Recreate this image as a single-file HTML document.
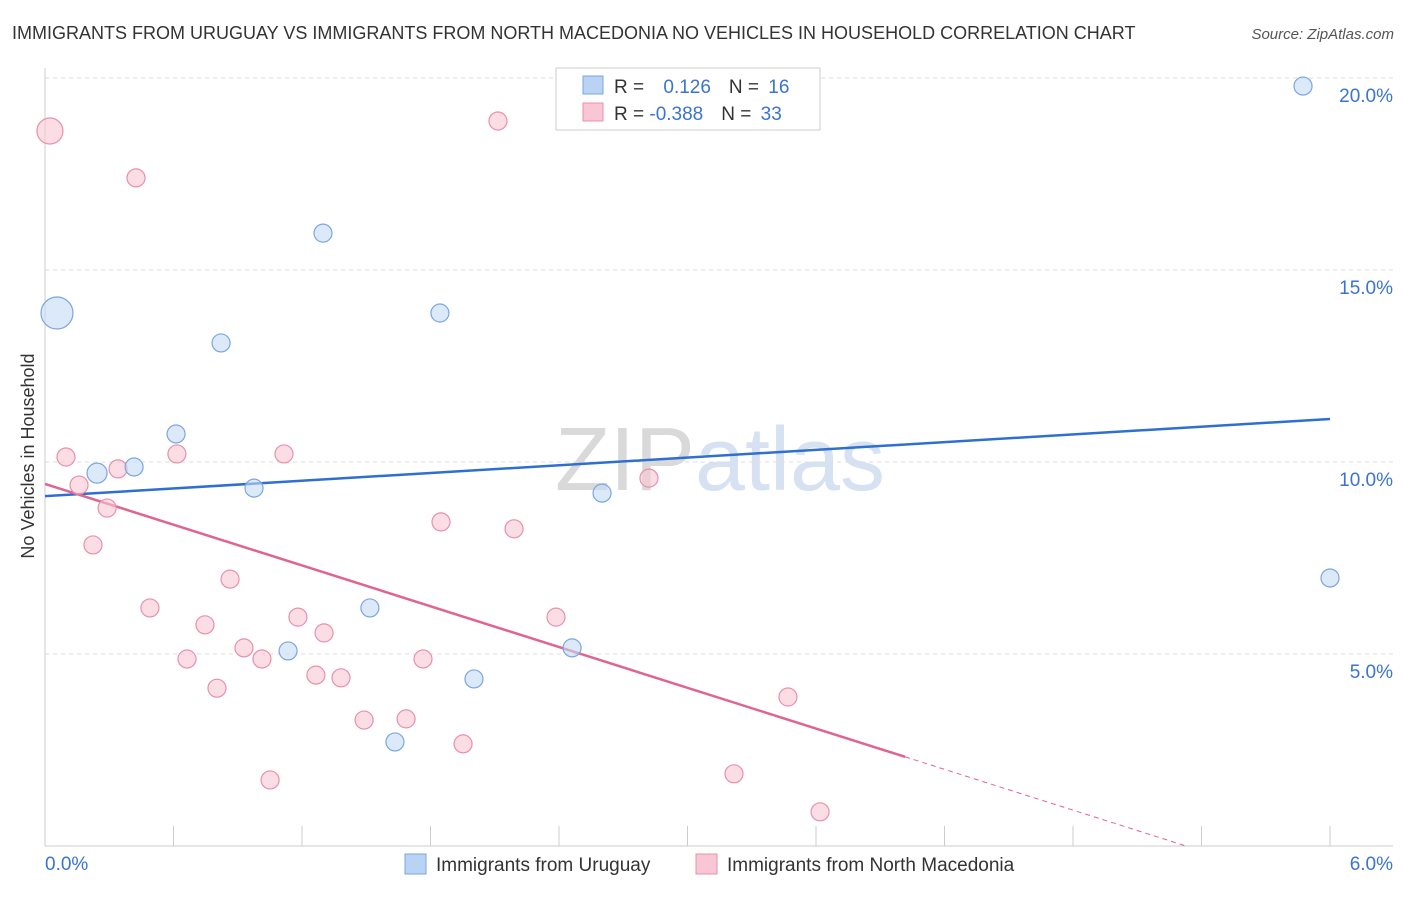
<!DOCTYPE html>
<html><head><meta charset="utf-8">
<style>
body{margin:0;background:#fff;font-family:"Liberation Sans",sans-serif;}
svg text{font-family:"Liberation Sans",sans-serif;}
</style></head>
<body>
<svg id="chart" width="1406" height="892" viewBox="0 0 1406 892" xmlns="http://www.w3.org/2000/svg">
<text x="12" y="39" font-size="18" fill="#333">IMMIGRANTS FROM URUGUAY VS IMMIGRANTS FROM NORTH MACEDONIA NO VEHICLES IN HOUSEHOLD CORRELATION CHART</text>
<text x="1394" y="39" font-size="15" fill="#555" font-style="italic" text-anchor="end">Source: ZipAtlas.com</text>
<text x="720" y="490" font-size="90" text-anchor="middle" fill="#ddd" font-family="Liberation Serif"><tspan fill="#d9d9d9">ZIP</tspan><tspan fill="#d6e2f2" font-family="Liberation Sans">atlas</tspan></text>
<text transform="translate(34,456) rotate(-90)" font-size="18" fill="#333" text-anchor="middle">No Vehicles in Household</text>
<g id="grid"></g>
<g id="axes"></g>
<g id="trend"></g>
<g id="points"></g>
<g>
<rect x="556" y="68" width="264" height="62" fill="#fff" stroke="#ccc"/>
<rect x="583" y="76" width="20" height="18" fill="#b9d3f5" stroke="#7aa6e0"/>
<rect x="583" y="103" width="20" height="18" fill="#f9c6d5" stroke="#e890aa"/>
<text x="614" y="93" font-size="19" fill="#333">R = <tspan fill="#3a74d0" dx="14">0.126</tspan><tspan fill="#333" dx="18">N = </tspan><tspan fill="#3a74d0" dx="4">16</tspan></text>
<text x="614" y="120" font-size="19" fill="#333">R = <tspan fill="#3a74d0">-0.388</tspan><tspan fill="#333" dx="18">N = </tspan><tspan fill="#3a74d0" dx="4">33</tspan></text>
</g>
<g>
<rect x="405" y="854" width="21" height="20" fill="#b9d3f5" stroke="#7aa6e0"/>
<text x="436" y="871" font-size="19" fill="#333">Immigrants from Uruguay</text>
<rect x="696" y="854" width="21" height="20" fill="#f9c6d5" stroke="#e890aa"/>
<text x="727" y="871" font-size="19" fill="#333">Immigrants from North Macedonia</text>
</g>
</svg>
<script>
const blueX=[0.056,0.243,0.416,0.612,0.822,0.976,1.135,1.298,1.517,1.634,1.844,2.003,2.461,2.601,5.874,6.0];
const blueY=[13.88,9.71,9.87,10.73,13.10,9.32,5.08,15.96,6.20,2.71,13.88,4.35,5.16,9.19,19.79,6.98];
const blueR=[16,10,9,9,9,9,9,9,9,9,9,9,9,9,9,9];
const pinkX=[0.023,0.098,0.159,0.224,0.29,0.341,0.425,0.49,0.616,0.663,0.747,0.803,0.864,0.929,1.013,1.051,1.116,1.181,1.265,1.303,1.382,1.49,1.686,1.765,1.849,1.952,2.115,2.19,2.386,2.82,3.217,3.469,3.619];
const pinkY=[18.62,10.13,9.40,7.84,8.80,9.82,17.40,6.20,10.21,4.87,5.76,4.11,6.95,5.16,4.87,1.72,10.21,5.96,4.45,5.55,4.38,3.28,3.31,4.87,8.44,2.66,18.88,8.26,5.96,9.58,1.88,3.88,0.89];
const pinkR=[13,9,9,9,9,9,9,9,9,9,9,9,9,9,9,9,9,9,9,9,9,9,9,9,9,9,9,9,9,9,9,9,9];
const yTicks=[5,10,15,20];
const yTickLabels=["5.0%","10.0%","15.0%","20.0%"];
const xTicks=[0,0.6,1.2,1.8,2.4,3.0,3.6,4.2,4.8,5.4,6.0];
const blueTrend=[9.11,11.12];
const pinkTrend=[9.43,-1.19];
const pinkSolidEnd=4.016;

const NS="http://www.w3.org/2000/svg";
const X=v=>45+v*214.17, Y=v=>846-v*38.4;
function mk(p,tag,a){const e=document.createElementNS(NS,tag);for(const k in a)e.setAttribute(k,a[k]);p.appendChild(e);return e;}
const grid=document.getElementById('grid'),axes=document.getElementById('axes'),trend=document.getElementById('trend'),pts=document.getElementById('points');
yTicks.forEach((t,i)=>{
 const l=mk(grid,'line',{x1:45,x2:1393,y1:Y(t),y2:Y(t),stroke:'#ddd','stroke-dasharray':'4,4'});
 
 
 const tx=mk(axes,'text',{x:1393,y:Y(t)+24,'font-size':19,fill:'#3a74d0','text-anchor':'end'});
 tx.textContent=yTickLabels[i];
 
 
});
const ax=mk(axes,'line',{x1:45,x2:45,y1:68,y2:846,stroke:'#ccc'});


const bx=mk(axes,'line',{x1:45,x2:1393,y1:846,y2:846,stroke:'#ccc'});


xTicks.forEach(t=>{
 const l=mk(axes,'line',{x1:X(t),x2:X(t),y1:826,y2:846,stroke:'#ccc'});
 
 
});
[[0,"0.0%","start",45],[6,"6.0%","end",1393]].forEach(d=>{
 const tx=mk(axes,'text',{x:d[3],y:870,'font-size':19,fill:'#3a74d0','text-anchor':d[2]});
 tx.textContent=d[1];
 
 
});
function drawPts(xs,ys,rs,fill,stroke,name){
 xs.forEach((x,i)=>{
  const c=mk(pts,'circle',{cx:X(x),cy:Y(ys[i]),r:rs[i],fill:fill,stroke:stroke,'stroke-width':1.2,'fill-opacity':0.6});
  
  
 });
}
drawPts(pinkX,pinkY,pinkR,'#f9c6d5','#e890aa','point-north-macedonia');
drawPts(blueX,blueY,blueR,'#c4daf5','#7aa6e0','point-uruguay');
const bt=mk(trend,'line',{x1:X(0),y1:Y(blueTrend[0]),x2:X(6),y2:Y(blueTrend[1]),stroke:'#2f6fd0','stroke-width':2.5});


const slope=(pinkTrend[1]-pinkTrend[0])/6, py=x=>pinkTrend[0]+slope*x, zeroX=-pinkTrend[0]/slope;
const pt=mk(trend,'line',{x1:X(0),y1:Y(pinkTrend[0]),x2:X(pinkSolidEnd),y2:Y(py(pinkSolidEnd)),stroke:'#e0648f','stroke-width':2.5});


const pd=mk(trend,'line',{x1:X(pinkSolidEnd),y1:Y(py(pinkSolidEnd)),x2:X(zeroX),y2:Y(0),stroke:'#e0648f','stroke-width':1,'stroke-dasharray':'5,4'});


</script>
</body></html>
